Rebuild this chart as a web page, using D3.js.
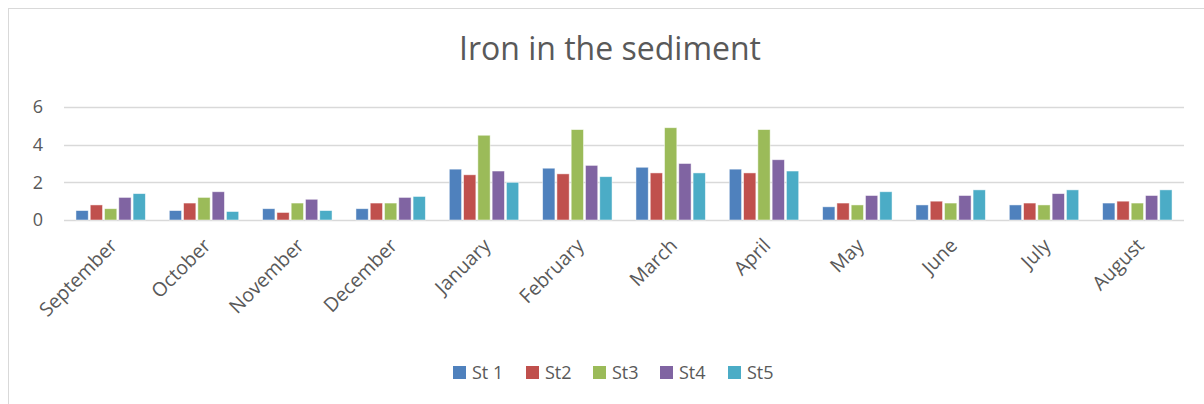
<!DOCTYPE html>
<html>
<head>
<meta charset="utf-8">
<script src="https://cdn.jsdelivr.net/npm/d3@7"></script>
<style>
  body { margin: 0; background: #fff; }
  text { font-family: "Open Sans", sans-serif; fill: #595959; }
</style>
</head>
<body>
<svg id="chart" width="1204" height="404"></svg>
<script>
// months along the x axis
let months = ["September", "October", "November", "December", "January", "February",
    "March", "April", "May", "June", "July", "August"];
let stations = ["St 1", "St2", "St3", "St4", "St5"];
let st1 = [0.5, 0.5, 0.6, 0.6, 2.7, 2.75, 2.8, 2.7, 0.7, 0.8, 0.8, 0.9];
let st2 = [0.8, 0.9, 0.4, 0.9, 2.4, 2.45, 2.5, 2.5, 0.9, 1.0, 0.9, 1.0];
let st3 = [0.6, 1.2, 0.9, 0.9, 4.5, 4.8, 4.9, 4.8, 0.8, 0.9, 0.8, 0.9];
let st4 = [1.2, 1.5, 1.1, 1.2, 2.6, 2.9, 3.0, 3.2, 1.3, 1.3, 1.4, 1.3];
let st5 = [1.4, 0.45, 0.5, 1.25, 2.0, 2.3, 2.5, 2.6, 1.5, 1.6, 1.6, 1.6];
let yTicks = [0, 2, 4, 6];
let colors = ["#4f81bd", "#c0504d", "#9bbb59", "#8064a2", "#4bacc6"];

let series = [st1, st2, st3, st4, st5];

let svg = d3.select("#chart");

// chart frame
svg.append("rect")
    .attr("x", 8.5).attr("y", 8.5)
    .attr("width", 1210).attr("height", 410)
    .style("fill", "none")
    .style("stroke", "#d9d9d9");

let plotLeft = 64, plotRight = 1184, plotTop = 107, plotBottom = 220;

let x0 = d3.scaleBand().domain(months).range([plotLeft, plotRight]).paddingInner(0.235).paddingOuter(0.1175);
let x1 = d3.scaleBand().domain(d3.range(stations.length)).range([0, x0.bandwidth()]);
let y = d3.scaleLinear().domain([0, 6]).range([plotBottom, plotTop]);

// gridlines
svg.append("g")
    .selectAll("line")
    .data(yTicks)
    .enter().append("line")
    .attr("x1", plotLeft).attr("x2", plotRight)
    .attr("y1", (d) => Math.round(y(d)) + 0.5)
    .attr("y2", (d) => Math.round(y(d)) + 0.5)
    .style("stroke", "#d9d9d9")
    .style("stroke-width", 1.5);

// y labels
svg.append("g")
    .selectAll("text")
    .data(yTicks)
    .enter().append("text")
    .attr("x", 43)
    .attr("y", (d) => y(d))
    .attr("dy", "0.35em")
    .attr("text-anchor", "end")
    .style("font-size", "18px")
    .text((d) => d);

// bars
let groups = svg.append("g")
    .selectAll("g")
    .data(months)
    .enter().append("g")
    .attr("transform", (d) => "translate(" + x0(d) + ",0)");

groups.selectAll("rect")
    .data((d, i) => series.map((s, k) => ({k: k, v: s[i]})))
    .enter().append("rect")
    .attr("x", (d) => x1(d.k) + 1)
    .attr("width", x1.bandwidth() - 2)
    .attr("y", (d) => y(d.v))
    .attr("height", (d) => y(0) - y(d.v))
    .style("fill", (d) => colors[d.k])
    .style("stroke", "#fff")
    .style("stroke-opacity", 0.6)
    .style("stroke-width", 0.8);

// x labels, rotated
svg.append("g")
    .selectAll("text")
    .data(months)
    .enter().append("text")
    .attr("transform", (d) => "translate(" + (x0(d) + x0.bandwidth() / 2 + 3) + ",242) rotate(-45)")
    .attr("text-anchor", "end")
    .attr("dy", "0.35em")
    .style("font-size", "19.5px")
    .text((d) => d);

// title
svg.append("text")
    .attr("x", 610)
    .attr("y", 60)
    .attr("text-anchor", "middle")
    .style("font-size", "32px")
    .text("Iron in the sediment");

// legend
let legendX = [453, 526, 593, 660, 728];
let legend = svg.append("g")
    .selectAll("g")
    .data(stations)
    .enter().append("g")
    .attr("transform", (d, i) => "translate(" + legendX[i] + ",366)");

legend.append("rect")
    .attr("width", 13).attr("height", 13)
    .style("fill", (d, i) => colors[i]);

legend.append("text")
    .attr("x", 19)
    .attr("y", 6.5)
    .attr("dy", "0.35em")
    .style("font-size", "18px")
    .text((d) => d);
</script>
</body>
</html>
